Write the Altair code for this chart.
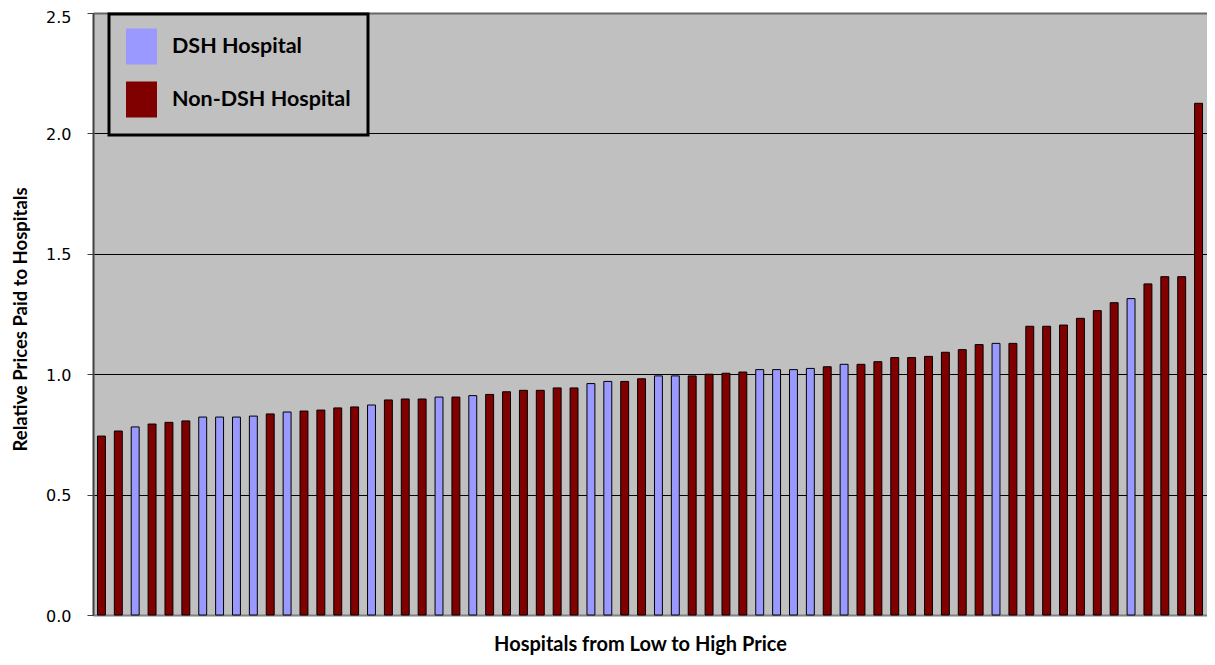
import altair as alt
import pandas as pd

values = [0.743, 0.764, 0.781, 0.793, 0.800, 0.806, 0.822, 0.822, 0.822, 0.826,
          0.835, 0.843, 0.847, 0.851, 0.860, 0.864, 0.872, 0.893, 0.897, 0.897,
          0.905, 0.905, 0.911, 0.916, 0.927, 0.933, 0.933, 0.943, 0.943, 0.961,
          0.970, 0.970, 0.981, 0.993, 0.993, 0.993, 1.000, 1.004, 1.009, 1.019,
          1.019, 1.019, 1.024, 1.031, 1.041, 1.041, 1.052, 1.069, 1.069, 1.074,
          1.091, 1.102, 1.123, 1.128, 1.128, 1.199, 1.199, 1.204, 1.232, 1.264,
          1.297, 1.314, 1.375, 1.405, 1.405, 2.125]
dsh_positions = [3, 7, 8, 9, 10, 12, 17, 21, 23, 30, 31, 34, 35, 40, 41, 42, 43, 45, 54, 62]
categories = ["DSH Hospital", "Non-DSH Hospital"]
y_ticks = [0.0, 0.5, 1.0, 1.5, 2.0, 2.5]

hospital = list(range(1, len(values) + 1))
group = [categories[0] if h in dsh_positions else categories[1] for h in hospital]
df = pd.DataFrame({"hospital": hospital, "price": values, "group": group})

bars = alt.Chart(df).mark_bar(stroke="black", strokeWidth=1).encode(
    x=alt.X("hospital:O",
            scale=alt.Scale(paddingInner=0.53, paddingOuter=0.265),
            axis=alt.Axis(title="Hospitals from Low to High Price", labels=False, ticks=False,
                          domainColor="#808080", domainWidth=2,
                          titleFont="Lato", titleFontWeight="bold", titleFontSize=20,
                          titleColor="black", titlePadding=19, titleX=547)),
    y=alt.Y("price:Q",
            scale=alt.Scale(domain=[0, 2.5], nice=False),
            axis=alt.Axis(title="Relative Prices Paid to Hospitals", values=y_ticks, format=".1f",
                          grid=True,
                          gridColor={"condition": {"test": "datum.value >= 2.5", "value": "#666666"},
                                     "value": "black"},
                          gridWidth={"condition": {"test": "datum.value >= 2.5", "value": 2},
                                     "value": 1},
                          domainColor="#404040", domainWidth=2,
                          tickColor="#404040", tickSize=6, tickWidth=1,
                          labelFont="DejaVu Sans", labelFontSize=16, labelColor="black",
                          labelPadding=16,
                          labelOffset={"condition": {"test": "datum.value >= 2.5", "value": 4},
                                       "value": 1},
                          titleFont="Lato", titleFontWeight="bold", titleFontSize=18.5,
                          titleColor="black", titlePadding=15, titleY=306)),
    color=alt.Color("group:N",
                    scale=alt.Scale(domain=categories, range=["#9999FF", "#800000"]),
                    legend=alt.Legend(title=None, orient="none", legendX=16, legendY=1,
                                      strokeColor="black",
                                      fillColor="#C0C0C0", padding=17,
                                      symbolType="M-1,-1.16H1V1.16H-1Z", symbolSize=961,
                                      symbolStrokeWidth=0, symbolOpacity=1,
                                      labelOffset=15,
                                      labelFont="Lato", labelFontWeight="bold",
                                      labelFontSize=21.5, labelColor="black",
                                      labelLimit=400)),
)

chart = bars.properties(
    width=1114, height=602,
    autosize=alt.AutoSizeParams(type="none"),
    padding={"left": 85, "top": 5, "right": 0, "bottom": 42},
    background="white",
).configure_view(fill="#C0C0C0", stroke=None).configure_legend(rowPadding=16, strokeWidth=3)

chart.save("out.html", embed_options={"renderer": "svg", "actions": False})
